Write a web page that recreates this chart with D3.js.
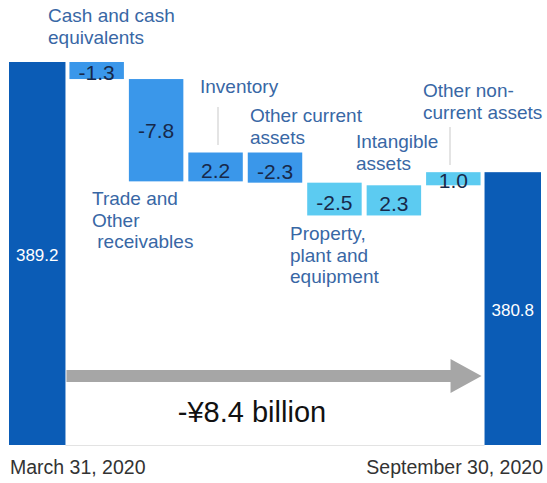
<!DOCTYPE html>
<html>
<head>
<meta charset="utf-8">
<script src="https://cdn.jsdelivr.net/npm/d3@7"></script>
<style>
  html, body { margin: 0; padding: 0; background: #fff; }
  svg { display: block; font-family: "Liberation Sans", Arial, sans-serif; }
  text { white-space: pre; }
</style>
</head>
<body>
<svg id="chart" width="547" height="483"></svg>
<script>
// Balance of assets, March 31 2020 -> September 30 2020 (¥ billion)
const categories = [
  "March 31, 2020",
  "Cash and cash equivalents",
  "Trade and Other receivables",
  "Inventory",
  "Other current assets",
  "Property, plant and equipment",
  "Intangible assets",
  "Other non-current assets",
  "September 30, 2020"
];
const values = [389.2, -1.3, -7.8, 2.2, -2.3, -2.5, 2.3, 1.0, 380.8];
const kinds = ["total", "current", "current", "current", "current", "noncurrent", "noncurrent", "noncurrent", "total"];
const labelLines = [
  null,
  ["Cash and cash", "equivalents"],
  ["Trade and", "Other", " receivables"],
  ["Inventory"],
  ["Other current", "assets"],
  ["Property,", "plant and", "equipment"],
  ["Intangible", "assets"],
  ["Other non-", "current assets"],
  null
];
const changeLabel = "-¥8.4 billion";
const valueFloor = 360;

const colors = { total: "#0b5cb6", current: "#3a97ea", noncurrent: "#5ccbf1" };
// plain hyphen for negatives
const fmt = v => d3.format(".1f")(v).replace("\u2212", "-");

// running totals for the waterfall
let running = 0;
const bars = categories.map((c, i) => {
  const v = values[i];
  let lo, hi;
  if (kinds[i] === "total") {
    lo = valueFloor; hi = v; running = v;
  } else {
    const from = running, to = running + v;
    lo = Math.min(from, to); hi = Math.max(from, to); running = to;
  }
  return { cat: c, value: v, kind: kinds[i], lo, hi, idx: i };
});

const x = d3.scaleBand().domain(categories).range([9, 541]).paddingInner(0.05).paddingOuter(0);
const y = d3.scaleLinear().domain([valueFloor, 389.2]).range([445, 62]);

const svg = d3.select("#chart");

// faint base line between the two totals
svg.append("line")
  .attr("x1", x(categories[0]) + x.bandwidth()).attr("x2", x(categories[8]))
  .attr("y1", y(valueFloor) + 0.5).attr("y2", y(valueFloor) + 0.5)
  .attr("stroke", "#e3e3e3").attr("stroke-width", 1);

// bars
svg.selectAll("rect.bar").data(bars).join("rect")
  .attr("class", "bar")
  .attr("x", d => x(d.cat) + (d.kind === "total" ? 0 : 1))
  .attr("width", d => x.bandwidth() - (d.kind === "total" ? 0 : 2))
  .attr("y", d => y(d.hi))
  .attr("height", d => y(d.lo) - y(d.hi))
  .attr("fill", d => colors[d.kind]);

// value labels inside the change bars
svg.selectAll("text.val").data(bars.filter(d => d.kind !== "total")).join("text")
  .attr("class", "val")
  .attr("x", d => x(d.cat) + x.bandwidth() / 2)
  .attr("y", d => {
    const top = y(d.hi), bot = y(d.lo), h = bot - top;
    return h > 60 ? (top + bot) / 2 + 0.35 * 21 : bot - (h - 20) / 2.5;
  })
  .attr("text-anchor", "middle")
  .attr("font-size", 21)
  .attr("fill", "#17294a")
  .text(d => fmt(d.value));

// value labels on the totals
svg.selectAll("text.tot").data(bars.filter(d => d.kind === "total")).join("text")
  .attr("class", "tot")
  .attr("x", d => x(d.cat) + x.bandwidth() / 2)
  .attr("y", d => (y(d.hi) + y(d.lo)) / 2 + 0.45 * 17)
  .attr("text-anchor", "middle")
  .attr("font-size", 17)
  .attr("fill", "#ffffff")
  .text(d => fmt(d.value));

// category labels: left edge and first baseline of each block
const labelPos = {
  1: [48, 22], 2: [92, 205], 3: [200, 93], 4: [250, 122],
  5: [290, 240], 6: [356, 148], 7: [423, 97]
};
const lineGap = 21.5;
bars.forEach(d => {
  const lines = labelLines[d.idx];
  if (!lines) return;
  const [lx, ly] = labelPos[d.idx];
  const t = svg.append("text")
    .attr("font-size", 19)
    .attr("fill", "#3867a5");
  lines.forEach((ln, k) => {
    t.append("tspan").attr("x", lx).attr("y", ly + k * lineGap).text(ln);
  });
});

// leader lines
const leaders = [[3, 218, 107, 145], [7, 450, 127, 165]];
leaders.forEach(([i, lx, y1, y2]) => {
  svg.append("line")
    .attr("x1", lx).attr("x2", lx).attr("y1", y1).attr("y2", y2)
    .attr("stroke", "#c9c9c9").attr("stroke-width", 1);
});

// total change arrow
const ax0 = x(categories[0]) + x.bandwidth() + 1;
const axTip = x(categories[8]) - 3;
const headLen = 31, headHalf = 17, shaftHalf = 6, ay = 376;
svg.append("path")
  .attr("d", d3.line()([
    [ax0, ay - shaftHalf], [axTip - headLen, ay - shaftHalf], [axTip - headLen, ay - headHalf],
    [axTip, ay], [axTip - headLen, ay + headHalf], [axTip - headLen, ay + shaftHalf],
    [ax0, ay + shaftHalf]
  ]) + "Z")
  .attr("fill", "#a6a6a6");

svg.append("text")
  .attr("x", 252).attr("y", 422)
  .attr("text-anchor", "middle")
  .attr("font-size", 29)
  .attr("fill", "#111")
  .text(changeLabel);

// date labels under the totals
svg.append("text")
  .attr("x", 10).attr("y", 474)
  .attr("font-size", 19.5).attr("fill", "#333")
  .text(categories[0]);
svg.append("text")
  .attr("x", 543).attr("y", 474)
  .attr("text-anchor", "end")
  .attr("font-size", 19.5).attr("fill", "#333")
  .text(categories[8]);
</script>
</body>
</html>
